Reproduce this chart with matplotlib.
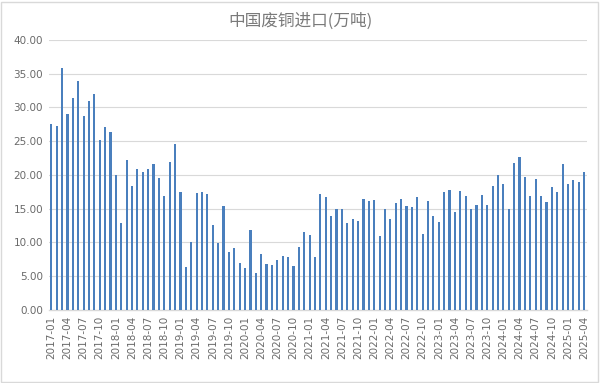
import matplotlib
matplotlib.use("Agg")
import matplotlib.pyplot as plt
from matplotlib.patches import Rectangle

plt.rcParams["font.family"] = ["Noto Sans CJK SC", "DejaVu Sans"]

# ── Données (万吨), mensuel 2017-01 → 2025-04 ────────────────────────────────
years = list(range(2017, 2026))
months = [f"{y}-{m:02d}" for y in years for m in range(1, 13)][:100]

imports = [
    # 2017
    27.5, 27.2, 35.9, 29.0, 31.4, 33.9, 28.7, 30.9, 32.0, 25.1, 27.1, 26.3,
    # 2018
    20.0, 12.9, 22.2, 18.3, 20.9, 20.4, 20.8, 21.6, 19.5, 16.9, 21.9, 24.6,
    # 2019
    17.5, 6.4, 10.0, 17.3, 17.4, 17.1, 12.6, 9.9, 15.4, 8.5, 9.1, 7.0,
    # 2020
    6.2, 11.8, 5.5, 8.2, 6.8, 6.7, 7.4, 8.0, 7.9, 6.5, 9.3, 11.5,
    # 2021
    11.1, 7.9, 17.2, 16.7, 13.9, 15.0, 15.0, 12.9, 13.4, 13.2, 16.4, 16.1,
    # 2022
    16.3, 10.9, 15.0, 13.5, 15.8, 16.4, 15.4, 15.3, 16.7, 11.2, 16.1, 13.9,
    # 2023
    13.0, 17.4, 17.8, 14.5, 17.6, 16.9, 15.0, 15.5, 17.0, 15.5, 18.3, 20.0,
    # 2024
    18.6, 15.0, 21.8, 22.6, 19.7, 16.8, 19.4, 16.8, 16.0, 18.2, 17.4, 21.6,
    # 2025
    18.7, 19.2, 18.9, 20.4,
]

yticks = [0, 5, 10, 15, 20, 25, 30, 35, 40]
xtick_idx = list(range(0, len(months), 3))

# ── Figure ───────────────────────────────────────────────────────────────────
fig = plt.figure(figsize=(6.0, 3.83), dpi=100)
ax = fig.add_axes([0.081, 0.191, 0.897, 0.705])

ax.bar(range(len(imports)), imports, width=0.4, color="#4a7fbd", zorder=3)

ax.set_xlim(-0.5, len(imports) - 0.5)
ax.set_ylim(0, 40)
ax.set_yticks(yticks)
ax.set_yticklabels([f"{v:.2f}" for v in yticks], fontsize=7.5, color="#6a6a6a",
                   family=["DejaVu Sans"])
ax.set_xticks(xtick_idx)
ax.set_xticklabels([months[i] for i in xtick_idx], rotation=90, fontsize=7.5,
                   color="#6a6a6a", family=["DejaVu Sans"])
ax.tick_params(axis="both", length=0, pad=4)

ax.grid(axis="y", color="#d9d9d9", lw=0.8, zorder=0)
for side in ["top", "right", "left"]:
    ax.spines[side].set_visible(False)
ax.spines["bottom"].set_color("#d9d9d9")
ax.spines["bottom"].set_linewidth(1.0)

fig.text(0.5, 0.945, "中国废铜进口(万吨)", ha="center", va="center",
         fontsize=12, color="#7a7a7a")

# bordure du graphique
fig.patches.append(Rectangle((0.002, 0.003), 0.995, 0.993, transform=fig.transFigure,
                             fill=False, edgecolor="#d9d9d9", lw=1.0))

fig.savefig("out.png", dpi=100)
